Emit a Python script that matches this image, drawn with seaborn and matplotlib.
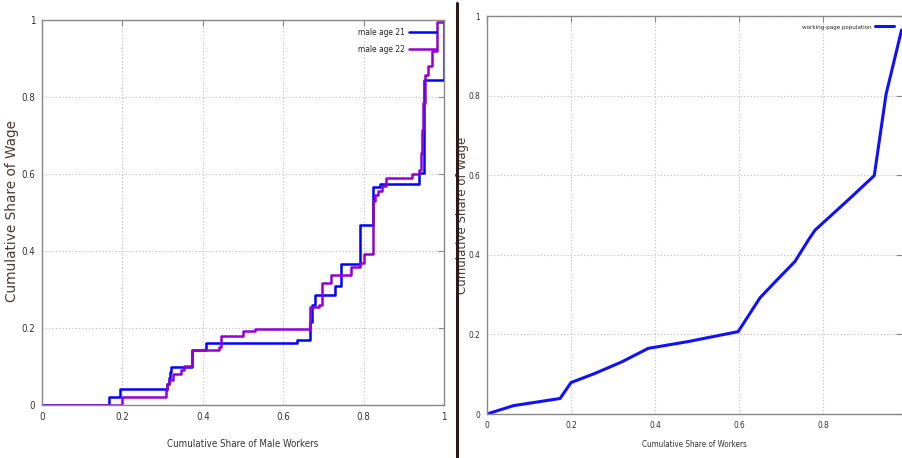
import numpy as np
import pandas as pd
import matplotlib
matplotlib.use("Agg")
import matplotlib.pyplot as plt
import seaborn as sns
from matplotlib.lines import Line2D

# left panel: step curves (cumulative share of male workers vs wage)
age21_x = [0, 0.167, 0.194, 0.311, 0.315, 0.318, 0.321, 0.372, 0.407, 0.634, 0.667, 0.672,
           0.68, 0.73, 0.743, 0.791, 0.823, 0.84, 0.938, 0.951, 1.0]
age21_y = [0, 0.022, 0.042, 0.055, 0.07, 0.085, 0.1, 0.142, 0.16, 0.17, 0.215, 0.26,
           0.286, 0.309, 0.366, 0.467, 0.565, 0.573, 0.602, 0.844, 1.0]
age22_x = [0, 0.198, 0.308, 0.312, 0.316, 0.325, 0.345, 0.352, 0.374, 0.44, 0.445, 0.5,
           0.53, 0.667, 0.688, 0.696, 0.72, 0.768, 0.79, 0.8, 0.824, 0.828, 0.836, 0.845,
           0.856, 0.92, 0.938, 0.942, 0.945, 0.948, 0.953, 0.959, 0.971, 0.982, 1.0]
age22_y = [0, 0.022, 0.04, 0.055, 0.065, 0.08, 0.09, 0.101, 0.142, 0.15, 0.178, 0.191,
           0.197, 0.255, 0.26, 0.316, 0.338, 0.359, 0.37, 0.392, 0.53, 0.545, 0.555, 0.57,
           0.59, 0.6, 0.61, 0.655, 0.715, 0.785, 0.856, 0.881, 0.919, 0.996, 0.996]

# right panel: working-age population
pop_x = [0, 0.063, 0.174, 0.2, 0.257, 0.321, 0.384, 0.479, 0.598, 0.65, 0.686, 0.733,
         0.765, 0.781, 0.86, 0.922, 0.95, 0.987]
pop_y = [0, 0.021, 0.039, 0.079, 0.102, 0.131, 0.165, 0.182, 0.207, 0.292, 0.332, 0.383,
         0.437, 0.462, 0.538, 0.599, 0.803, 0.965]

left_ticks = [0, 0.2, 0.4, 0.6, 0.8, 1]
left_labels = ["0", "0.2", "0.4", "0.6", "0.8", "1"]

sns.set_style("white")
plt.rcParams['font.family'] = ['DejaVu Sans']
plt.rcParams['font.stretch'] = 'condensed'

fig = plt.figure(figsize=(9.02, 4.58), dpi=100)
ax1 = fig.add_axes([42/902, 1-405/458, 402/902, 385/458])
ax2 = fig.add_axes([487/902, 1-414/458, 415/902, 398/458])

df21 = pd.DataFrame({"x": age21_x, "y": age21_y})
df22 = pd.DataFrame({"x": age22_x, "y": age22_y})
sns.lineplot(data=df21, x="x", y="y", ax=ax1, color="#0000ff", lw=1.8,
             drawstyle="steps-post", estimator=None, label="male age 21")
sns.lineplot(data=df22, x="x", y="y", ax=ax1, color="#9400d3", lw=1.8,
             drawstyle="steps-post", estimator=None, label="male age 22")

dfp = pd.DataFrame({"x": pop_x, "y": pop_y})
sns.lineplot(data=dfp, x="x", y="y", ax=ax2, color="#1010ff", lw=2.2,
             estimator=None, sort=False, label="working-page population")

for ax in (ax1, ax2):
    ax.grid(True, color="#bbbbbb", linestyle=(0, (1, 2)), lw=0.8)
    for s in ax.spines.values():
        s.set_color("#888888")
        s.set_linewidth(1.0)
    ax.tick_params(direction="in", top=True, right=True, color="#888888",
                   length=4, labelcolor="#333333")

ax1.set_xlim(0, 1)
ax1.set_ylim(0, 1)
ax1.set_xticks(left_ticks, left_labels)
ax1.set_yticks(left_ticks, left_labels)
ax1.tick_params(labelsize=7, pad=5)
ax1.set_xlabel("Cumulative Share of Male Workers", fontsize=7, color="#333333")
ax1.xaxis.set_label_coords(0.5, -0.088)
ax1.set_ylabel("Cumulative Share of Wage", fontsize=9.8, color="#4a3a30",
               fontstretch="normal")
ax1.yaxis.set_label_coords(-0.058, 0.504)
ax1.legend(loc="upper right", frameon=False, markerfirst=False, fontsize=6,
           handlelength=3.2, borderaxespad=0.55, labelspacing=1.0, handletextpad=0.5)

ax2.set_xlim(0, 0.988)
ax2.set_ylim(0, 1)
ax2.set_xticks(left_ticks[:5], left_labels[:5])
ax2.set_yticks(left_ticks, left_labels)
ax2.tick_params(labelsize=6, pad=5)
ax2.spines["right"].set_visible(False)
ax2.set_xlabel("Cumulative Share of Workers", fontsize=5.8, color="#333333")
ax2.xaxis.set_label_coords(0.5, -0.065)
ax2.set_ylabel("Cumulative Share of Wage", fontsize=8.5, color="#4a3a30",
               fontstretch="normal")
ax2.yaxis.set_label_coords(-0.043, 0.5)
ax2.legend(loc="upper right", frameon=False, markerfirst=False, fontsize=4.5,
           handlelength=3.0, borderaxespad=0.9, handletextpad=0.5)

# separator between the two screenshots
fig.add_artist(Line2D([457/902, 457/902], [0, 1-3/458], transform=fig.transFigure,
                      color="#2a1a1a", lw=2.2))

fig.savefig("out.png", dpi=100)
